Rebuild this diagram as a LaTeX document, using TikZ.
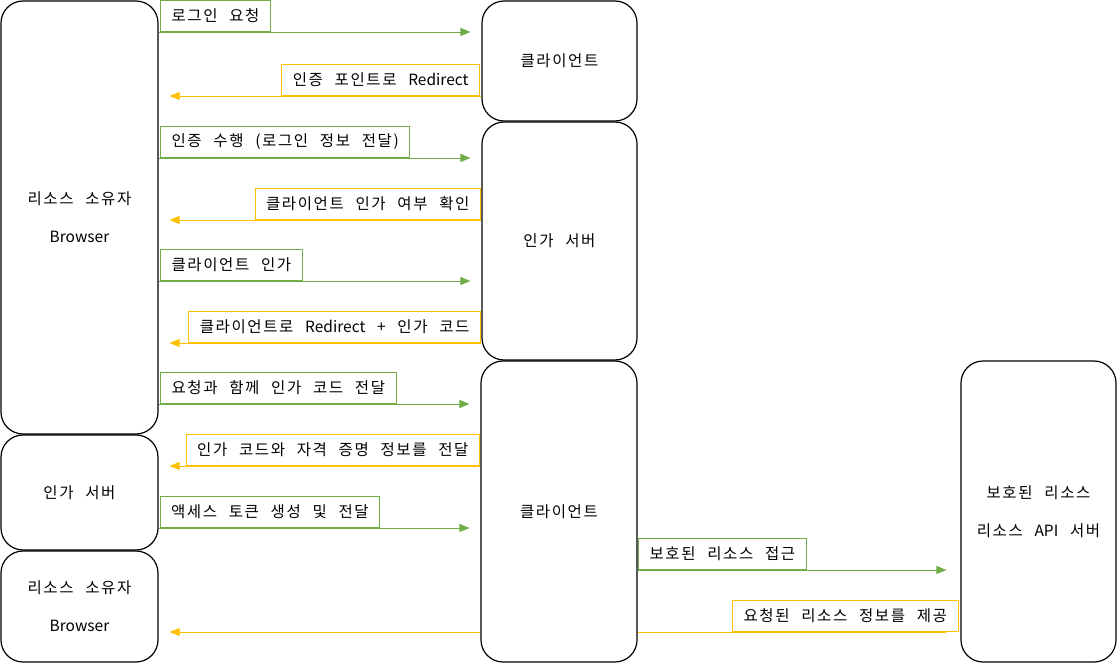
\documentclass[tikz,border=0pt]{standalone}
\usepackage{fontspec}
\setmainfont{Noto Sans CJK KR}[LetterSpace=10.5, WordSpace=2.3]
\newfontfamily\latfont{Noto Sans CJK KR}
\newcommand{\lat}[1]{{\latfont #1}}
\usetikzlibrary{arrows.meta,calc}
\pgfdeclarelayer{bg}
\pgfsetlayers{bg,main}
\definecolor{ggreen}{HTML}{70AD47}
\definecolor{gyellow}{HTML}{FFC000}
\tikzset{
  box/.style={draw=black, line width=1.2pt, rounded corners=22pt, fill=white, align=center,
    font=\fontsize{15.5}{38}\selectfont, inner sep=0pt},
  lbl/.style={line width=0.9pt, minimum height=31pt, inner xsep=11pt, inner ysep=0pt,
    font=\fontsize{15.5}{18}\selectfont},
  glabel/.style={lbl, draw=ggreen, anchor=south west},
  ylabel/.style={lbl, draw=gyellow, anchor=south east},
  garrow/.style={draw=ggreen, line width=0.9pt, -{Triangle[length=10pt,width=8pt]}, shorten >=11pt},
  yarrow/.style={draw=gyellow, line width=0.9pt, -{Triangle[length=10pt,width=8pt]}, shorten >=11pt},
}
\begin{document}
\begin{tikzpicture}[x=1pt,y=-1pt]
\useasboundingbox (0,0) rectangle (1117,663);
% boxes
\node[box, minimum width=157pt, minimum height=433pt] (B1) at (79.5,217.5) {리소스 소유자\\\lat{Browser}};
\node[box, minimum width=157pt, minimum height=115pt] (A1) at (79.5,492.5) {인가 서버};
\node[box, minimum width=157pt, minimum height=111pt] (B2) at (79.5,606.5) {리소스 소유자\\\lat{Browser}};
\node[box, minimum width=155pt, minimum height=120pt] (C1) at (559.5,61) {클라이언트};
\node[box, minimum width=155pt, minimum height=238pt] (S) at (559.5,241) {인가 서버};
\node[box, minimum width=156pt, minimum height=301pt] (C2) at (559,511.5) {클라이언트};
\node[box, minimum width=155pt, minimum height=301pt] (R) at (1038.5,511.5) {보호된 리소스\\리소스 \lat{API} 서버};

% connectors
\begin{pgfonlayer}{bg}
\draw[garrow] (B1.east |- 0,32) -- (C1.west |- 0,32);
\draw[yarrow] (C1.west |- 0,96) -- (B1.east |- 0,96);
\draw[garrow] (B1.east |- 0,158) -- (S.west |- 0,158);
\draw[yarrow] (S.west |- 0,220) -- (B1.east |- 0,220);
\draw[garrow] (B1.east |- 0,281) -- (S.west |- 0,281);
\draw[yarrow] (S.west |- 0,343) -- (B1.east |- 0,343);
\draw[garrow] (B1.east |- 0,404) -- (C2.west |- 0,404);
\draw[yarrow] (C2.west |- 0,466) -- (A1.east |- 0,466);
\draw[garrow] (A1.east |- 0,528) -- (C2.west |- 0,528);
\draw[garrow, shorten >=14pt] (C2.east |- 0,570) -- (R.west |- 0,570);
\draw[yarrow, shorten <=14pt] (R.west |- 0,632) -- (B2.east |- 0,632);
\end{pgfonlayer}

% labels
\node[glabel] (l1) at ($(B1.east |- 0,32)+(1.5,0)$) {로그인 요청};
\node[ylabel] (l2) at ($(C1.west |- 0,96)+(-1.5,0)$) {인증 포인트로 \lat{Redirect}};
\node[glabel] (l3) at ($(B1.east |- 0,158)+(1.5,0)$) {인증 수행 (로그인 정보 전달)};
\node[ylabel] (l4) at ($(S.west |- 0,220)+(-0.5,0)$) {클라이언트 인가 여부 확인};
\node[glabel] (l5) at ($(B1.east |- 0,281)+(1.5,0)$) {클라이언트 인가};
\node[ylabel] (l6) at ($(S.west |- 0,343)+(-0.5,0)$) {클라이언트로 \lat{Redirect} + 인가 코드};
\node[glabel] (l7) at ($(B1.east |- 0,404)+(1.5,0)$) {요청과 함께 인가 코드 전달};
\node[ylabel] (l8) at ($(C2.west |- 0,466)+(-0.5,0)$) {인가 코드와 자격 증명 정보를 전달};
\node[glabel] (l9) at ($(A1.east |- 0,528)+(1,0)$) {액세스 토큰 생성 및 전달};
\node[glabel] (l10) at ($(C2.east |- 0,570)+(0.5,0)$) {보호된 리소스 접근};
\node[ylabel] (l11) at ($(R.west |- 0,632)+(-2,0)$) {요청된 리소스 정보를 제공};
\end{tikzpicture}
\end{document}
